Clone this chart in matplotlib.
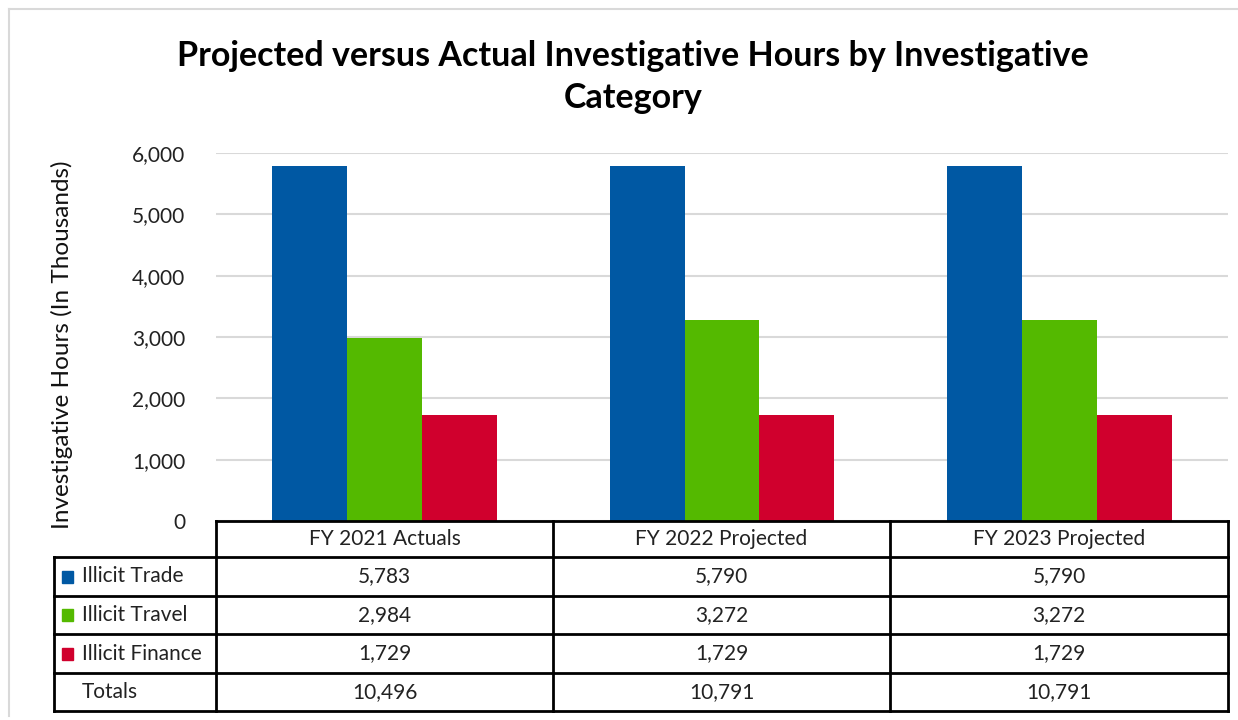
import matplotlib.pyplot as plt
import numpy as np
from matplotlib.patches import Rectangle
from matplotlib.lines import Line2D

plt.rcParams["font.family"] = ["Lato", "DejaVu Sans"]

categories = ["FY 2021 Actuals", "FY 2022 Projected", "FY 2023 Projected"]
series_names = ["Illicit Trade", "Illicit Travel", "Illicit Finance"]
illicit_trade = [5783, 5790, 5790]
illicit_travel = [2984, 3272, 3272]
illicit_finance = [1729, 1729, 1729]
totals = [10496, 10791, 10791]
colors = ["#0058A3", "#54B900", "#D0002D"]

W, H = 1238, 720
fig = plt.figure(figsize=(W / 100, H / 100), dpi=100)


def fx(px):
    return px / W


def fy(py):
    return 1 - py / H


# plot area
x0, x1, y0, y1 = 216, 1228, 521, 153
ax = fig.add_axes([fx(x0), fy(y0), fx(x1) - fx(x0), fy(y1) - fy(y0)])
series = [illicit_trade, illicit_travel, illicit_finance]
x = np.arange(len(categories))
bw = 0.222
for i, (vals, c) in enumerate(zip(series, colors)):
    ax.bar(x + (i - 1) * bw, vals, bw, color=c, zorder=3)
ax.set_xlim(-0.5, 2.5)
ax.set_ylim(0, 6000)
ax.set_yticks(range(0, 6001, 1000))
ax.set_yticklabels([f"{v:,}" for v in range(0, 6001, 1000)], fontsize=15, color="#222222")
ax.set_xticks([])
ax.grid(axis="y", color="#D9D9D9", linewidth=1.5, zorder=0)
for s in ax.spines.values():
    s.set_visible(False)
ax.tick_params(axis="y", length=0, pad=22)
fig.text(fx(62), fy(345), "Investigative Hours (In Thousands)", rotation=90,
         ha="center", va="center", fontsize=17.5, color="#111111")

fig.text(fx(633), fy(77), "Projected versus Actual Investigative Hours by Investigative\nCategory",
         ha="center", va="center", fontsize=24.5, fontweight="bold", linespacing=1.35)

# data table
col_x = [x0, 553, 890, x1]
row_y = [521, 557, 596, 634, 673, 711]
label_x0 = 54
lw = 2.0
fs = 15


def hline(xa, xb, yy):
    fig.add_artist(Line2D([fx(xa), fx(xb)], [fy(yy), fy(yy)], color="black", lw=lw, transform=fig.transFigure))


def vline(xx, ya, yb):
    fig.add_artist(Line2D([fx(xx), fx(xx)], [fy(ya), fy(yb)], color="black", lw=lw, transform=fig.transFigure))


hline(x0, x1, row_y[0])
for yy in row_y[1:]:
    hline(label_x0, x1, yy)
for xx in col_x:
    vline(xx, row_y[0], row_y[-1])
vline(label_x0, row_y[1], row_y[-1])

for j, cat in enumerate(categories):
    cx = (col_x[j] + col_x[j + 1]) / 2
    cy = (row_y[0] + row_y[1]) / 2
    fig.text(fx(cx), fy(cy), cat, ha="center", va="center", fontsize=fs, color="#222222")

row_values = series + [totals]
row_labels = series_names + ["Totals"]
for r, (lab, vals) in enumerate(zip(row_labels, row_values)):
    cy = (row_y[r + 1] + row_y[r + 2]) / 2
    if r < 3:
        fig.add_artist(Rectangle((fx(62), fy(cy + 6)), fx(11), fy(cy - 6) - fy(cy + 6),
                                 color=colors[r], transform=fig.transFigure))
    fig.text(fx(82), fy(cy), lab, ha="left", va="center", fontsize=fs, color="#222222")
    for j, v in enumerate(vals):
        cx = (col_x[j] + col_x[j + 1]) / 2
        fig.text(fx(cx), fy(cy), f"{v:,}", ha="center", va="center", fontsize=fs, color="#222222")

# outer chart border (top and left visible)
fig.add_artist(Line2D([fx(9), fx(1238)], [fy(9), fy(9)], color="#D9D9D9", lw=1.5, transform=fig.transFigure))
fig.add_artist(Line2D([fx(9), fx(9)], [fy(9), fy(716)], color="#D9D9D9", lw=1.5, transform=fig.transFigure))

fig.savefig("out.png", dpi=100)
